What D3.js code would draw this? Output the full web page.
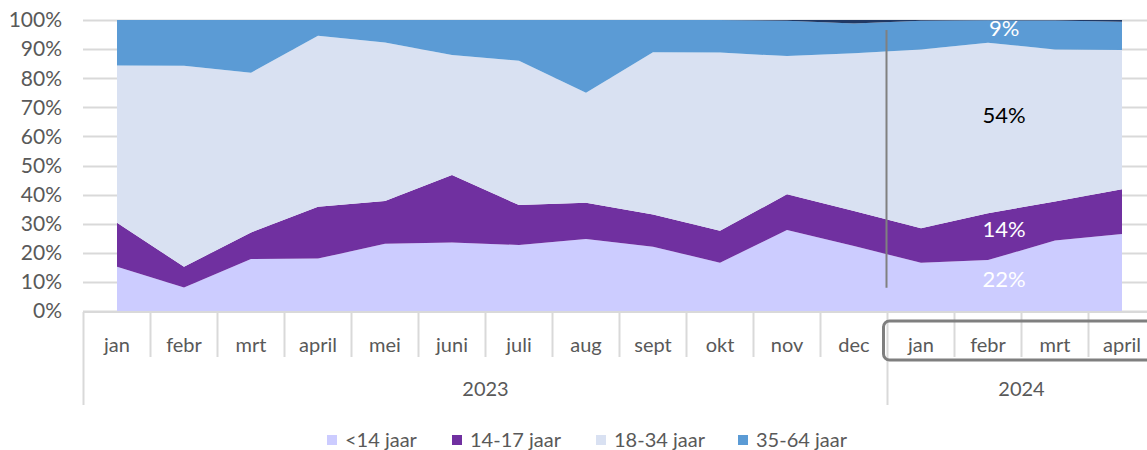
<!DOCTYPE html>
<html>
<head>
<meta charset="utf-8">
<script src="https://cdn.jsdelivr.net/npm/d3@7"></script>
<style>
  html, body { margin: 0; padding: 0; background: #fff; }
  svg { display: block; font-family: Lato, "Open Sans", sans-serif; }
</style>
</head>
<body>
<div id="chart"></div>
<script>
// months (two-level category axis: month / year)
const months = ['jan', 'febr', 'mrt', 'april', 'mei', 'juni', 'juli', 'aug', 'sept', 'okt', 'nov', 'dec', 'jan', 'febr', 'mrt', 'april'];
const years = [{ label: '2023', from: 0, to: 12 }, { label: '2024', from: 12, to: 16 }];

// share per age group, in % of the month total
const under14 = [15.2, 8.1, 17.9, 18.0, 23.1, 23.5, 22.7, 24.7, 22.1, 16.6, 27.8, 22.3, 16.6, 17.5, 24.2, 26.5];
const age14to17 = [15.1, 7.1, 9.1, 17.8, 14.7, 23.2, 13.7, 12.5, 11.1, 11.0, 12.3, 12.1, 11.8, 16.1, 13.4, 15.3];
const age18to34 = [54.1, 69.1, 54.9, 58.8, 54.5, 41.3, 49.6, 37.8, 55.7, 61.2, 47.5, 54.2, 61.5, 58.6, 52.3, 47.9];
const age35to64 = [15.6, 15.7, 18.1, 5.4, 7.7, 12.0, 14.0, 25.0, 11.1, 11.2, 12.1, 10.2, 9.8, 7.7, 9.9, 9.7];
const age65plus = [0, 0, 0, 0, 0, 0, 0, 0, 0, 0, 0.3, 1.2, 0.3, 0.1, 0.2, 0.6];

const yTicks = [0, 10, 20, 30, 40, 50, 60, 70, 80, 90, 100];
const seriesNames = ['<14 jaar', '14-17 jaar', '18-34 jaar', '35-64 jaar', '65+ jaar'];
const seriesColors = ['#CCCCFF', '#7030A0', '#D9E1F2', '#5B9BD5', '#203864'];
const legendNames = ['<14 jaar', '14-17 jaar', '18-34 jaar', '35-64 jaar'];

// labels shown for 2024
const pointLabels = [
  { series: 0, text: '22%', color: '#fff', shift: 0 },
  { series: 1, text: '14%', color: '#fff', shift: 0 },
  { series: 2, text: '54%', color: '#000', shift: -8 },
  { series: 3, text: '9%', color: '#fff', shift: 0 }
];

const W = 1147, H = 450;
const textColor = '#595959';
const gridColor = '#D9D9D9';

const svg = d3.select('#chart').append('svg')
  .attr('width', W).attr('height', H);

const table = months.map((m, i) => ({
  i,
  '<14 jaar': under14[i],
  '14-17 jaar': age14to17[i],
  '18-34 jaar': age18to34[i],
  '35-64 jaar': age35to64[i],
  '65+ jaar': age65plus[i]
}));

const stack = d3.stack().keys(seriesNames).offset(d3.stackOffsetExpand);
const layers = stack(table);

const x = d3.scaleBand().domain(d3.range(months.length)).range([83.5, 83.5 + 67 * months.length]);
const cx = i => x(i) + x.bandwidth() / 2;
const y = d3.scaleLinear().domain([0, 1]).range([311, 20]);

// gridlines
svg.append('g')
  .selectAll('line')
  .data(yTicks)
  .join('line')
  .attr('x1', 83).attr('x2', W)
  .attr('y1', d => Math.round(y(d / 100)) + 0.5)
  .attr('y2', d => Math.round(y(d / 100)) + 0.5)
  .attr('stroke', gridColor)
  .attr('stroke-width', 2);

// y tick labels
svg.append('g')
  .selectAll('text')
  .data(yTicks)
  .join('text')
  .attr('x', 62)
  .attr('y', d => y(d / 100))
  .attr('dy', '0.35em')
  .attr('text-anchor', 'end')
  .attr('font-size', 21)
  .attr('fill', textColor)
  .text(d => d + '%');

// stacked areas
const area = d3.area()
  .x(d => cx(d.data.i))
  .y0(d => y(d[0]))
  .y1(d => y(d[1]));

svg.append('g')
  .selectAll('path')
  .data(layers)
  .join('path')
  .attr('d', area)
  .attr('fill', (d, i) => seriesColors[i]);

// category axis
const axis = svg.append('g').attr('stroke', gridColor).attr('stroke-width', 2);
axis.append('line')
  .attr('x1', 83).attr('x2', W)
  .attr('y1', 312).attr('y2', 312);
axis.selectAll('line.month')
  .data(d3.range(1, months.length + 1).filter(k => !years.some(yr => yr.to === k || yr.from === k)))
  .join('line')
  .attr('class', 'month')
  .attr('x1', k => x(k - 1) + x.bandwidth()).attr('x2', k => x(k - 1) + x.bandwidth())
  .attr('y1', 312).attr('y2', 357);
axis.selectAll('line.year')
  .data(years.map(yr => yr.from))
  .join('line')
  .attr('class', 'year')
  .attr('x1', k => x(k)).attr('x2', k => x(k))
  .attr('y1', 312).attr('y2', 405);

svg.append('g')
  .selectAll('text')
  .data(months)
  .join('text')
  .attr('x', (d, i) => cx(i))
  .attr('y', 352)
  .attr('text-anchor', 'middle')
  .attr('font-size', 20)
  .attr('fill', textColor)
  .text(d => d);

svg.append('g')
  .selectAll('text')
  .data(years)
  .join('text')
  .attr('x', d => (x(d.from) + x(d.to - 1) + x.bandwidth()) / 2)
  .attr('y', 396)
  .attr('text-anchor', 'middle')
  .attr('font-size', 20)
  .attr('fill', textColor)
  .text(d => d.label);

// marker line between 2023 and 2024
svg.append('line')
  .attr('x1', x(12) - 1).attr('x2', x(12) - 1)
  .attr('y1', y(0.966)).attr('y2', y(0.08))
  .attr('stroke', '#808080')
  .attr('stroke-width', 2);

// box round the 2024 months
svg.append('rect')
  .attr('x', x(12) - 4)
  .attr('y', 321)
  .attr('width', x.bandwidth() * 4 + 10)
  .attr('height', 39)
  .attr('rx', 6)
  .attr('fill', 'none')
  .attr('stroke', '#7F7F7F')
  .attr('stroke-width', 3);

// data labels in the 2024 part
const labelIdx = 13, labelFrac = 0.24;
const lerp = (a, b, t) => a + (b - a) * t;
svg.append('g')
  .selectAll('text')
  .data(pointLabels)
  .join('text')
  .attr('x', lerp(cx(labelIdx), cx(labelIdx + 1), labelFrac))
  .attr('y', d => {
    const L = layers[d.series];
    const lo = lerp(L[labelIdx][0], L[labelIdx + 1][0], labelFrac);
    const hi = lerp(L[labelIdx][1], L[labelIdx + 1][1], labelFrac);
    return y((lo + hi) / 2) - 4 + d.shift;
  })
  .attr('dy', '0.35em')
  .attr('text-anchor', 'middle')
  .attr('font-size', 22)
  .attr('fill', d => d.color)
  .text(d => d.text);

// legend
const legend = svg.append('g').attr('transform', 'translate(0,440)');
const legendX = [327, 452, 596, 738];
legendNames.forEach((name, i) => {
  const g = legend.append('g').attr('transform', `translate(${legendX[i]},0)`);
  g.append('rect').attr('x', 0).attr('y', -5).attr('width', 10).attr('height', 10)
    .attr('fill', seriesColors[i]);
  g.append('text').attr('x', 18).attr('y', 0).attr('dy', '0.35em')
    .attr('font-size', 20).attr('fill', textColor).text(name);
});
</script>
</body>
</html>
